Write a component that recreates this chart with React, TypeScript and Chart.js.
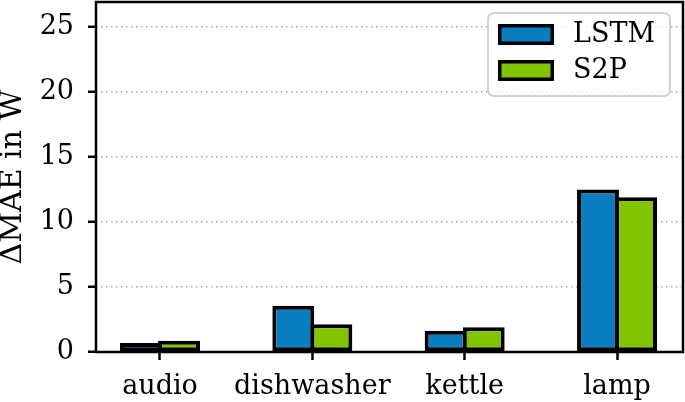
import React, { useEffect, useRef } from "react";
import { Chart, registerables } from "chart.js";

Chart.register(...registerables);

const categories = ["audio", "dishwasher", "kettle", "lamp"];
const seriesNames = ["LSTM", "S2P"];
const lstmValues = [0.7, 3.55, 1.63, 12.48];
const s2pValues = [0.86, 2.13, 1.9, 11.9];
const yTicks = [0, 5, 10, 15, 20, 25];
const yLabel = "ΔMAE in W";

const BLUE = "#0a7dc1";
const GREEN = "#82c400";
const FONT = "'DejaVu Serif', serif";

const framePlugin = {
  id: "frame",
  afterDatasetsDraw(chart: any) {
    const { ctx, chartArea } = chart;
    ctx.save();
    ctx.strokeStyle = "#000";
    ctx.lineWidth = 2.5;
    ctx.strokeRect(chartArea.left, chartArea.top, chartArea.right - chartArea.left, chartArea.bottom - chartArea.top);
    ctx.restore();
  },
};

const legendPlugin = {
  id: "boxLegend",
  afterDraw(chart: any) {
    const { ctx, chartArea } = chart;
    const w = 182;
    const h = 83;
    const x = chartArea.right - 13 - w;
    const y = chartArea.top + 11;
    ctx.save();
    ctx.beginPath();
    ctx.roundRect(x, y, w, h, 6);
    ctx.fillStyle = "rgba(255,255,255,0.8)";
    ctx.fill();
    ctx.strokeStyle = "#d0d0d0";
    ctx.lineWidth = 2;
    ctx.stroke();
    chart.data.datasets.forEach((ds: any, i: number) => {
      const ry = y + 11 + i * 36;
      ctx.fillStyle = ds.backgroundColor;
      ctx.fillRect(x + 10, ry, 56, 21);
      ctx.strokeStyle = "#000";
      ctx.lineWidth = 3.5;
      ctx.strokeRect(x + 11.75, ry + 1.75, 52.5, 17.5);
      ctx.fillStyle = "#000";
      ctx.font = `27px ${FONT}`;
      ctx.textBaseline = "middle";
      ctx.textAlign = "left";
      ctx.fillText(ds.label, x + 85, ry + 11);
    });
    ctx.restore();
  },
};

export default function App() {
  const ref = useRef<HTMLCanvasElement | null>(null);
  useEffect(() => {
    document.body.style.margin = "0";
    const canvas = ref.current!;
    const chart = new Chart(canvas, {
      type: "bar",
      data: {
        datasets: [
          {
            label: seriesNames[0],
            data: lstmValues.map((v, i) => ({ x: i, y: v })),
            backgroundColor: BLUE,
            borderColor: "#000",
            borderWidth: 4,
            borderSkipped: false,
            categoryPercentage: 0.5,
            barPercentage: 1.1,
          },
          {
            label: seriesNames[1],
            data: s2pValues.map((v, i) => ({ x: i, y: v })),
            backgroundColor: GREEN,
            borderColor: "#000",
            borderWidth: 4,
            borderSkipped: false,
            categoryPercentage: 0.5,
            barPercentage: 1.1,
          },
        ],
      },
      options: {
        animation: false,
        responsive: false,
        maintainAspectRatio: false,
        layout: { padding: { top: 2, right: 2, left: 0, bottom: 0 } },
        plugins: { legend: { display: false }, tooltip: { enabled: false } },
        scales: {
          x: {
            type: "linear",
            offset: false,
            min: -0.42,
            max: 3.433,
            afterBuildTicks: (scale: any) => {
              scale.ticks = categories.map((_, i) => ({ value: i }));
            },
            afterFit: (scale: any) => {
              scale.height = 50;
              scale.paddingLeft = 0;
              scale.paddingRight = 0;
            },
            ticks: {
              callback: (v: any) => categories[v] ?? "",
              color: "#000",
              font: { family: FONT, size: 27 },
              padding: 11,
              maxRotation: 0,
              autoSkip: false,
            },
            grid: {
              display: true,
              offset: false,
              drawOnChartArea: false,
              drawTicks: true,
              tickLength: 8,
              tickWidth: 2.5,
              tickColor: "#000",
            },
            border: { display: false },
          },
          y: {
            min: 0,
            max: 26.9,
            afterBuildTicks: (scale: any) => {
              scale.ticks = yTicks.map((v) => ({ value: v }));
            },
            afterFit: (scale: any) => {
              scale.width = 96;
              scale.paddingTop = 0;
              scale.paddingBottom = 0;
            },
            ticks: {
              color: "#000",
              font: { family: FONT, size: 27 },
              padding: 14,
            },
            grid: {
              color: "#a8a8a8",
              lineWidth: 1.5,
              drawTicks: true,
              tickLength: 8,
              tickWidth: 2.5,
              tickColor: "#000",
              tickBorderDash: [],
            },
            border: { display: false, dash: [1.5, 3.5] },
            title: {
              display: true,
              text: yLabel,
              color: "#000",
              font: { family: FONT, size: 30, lineHeight: 0.85 },
              padding: { top: 0, bottom: 0 },
            },
          },
        },
      },
      plugins: [framePlugin, legendPlugin],
    } as any);
    return () => chart.destroy();
  }, []);
  return <canvas ref={ref} width={685} height={402} style={{ display: "block" }} />;
}
